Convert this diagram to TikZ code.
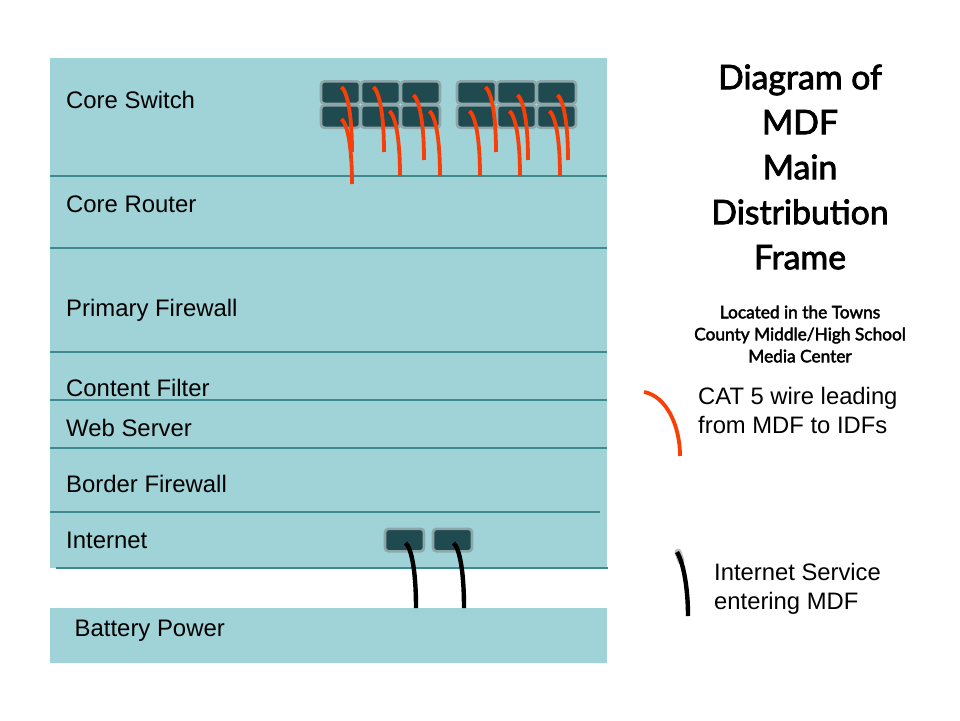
\documentclass[tikz,border=0pt]{standalone}
\usepackage{fontspec}
\setmainfont{Liberation Sans}
\newfontfamily\titlefont[FakeBold=2.4]{Lato}
\definecolor{bandfill}{HTML}{A0D3D7}
\definecolor{ruleteal}{HTML}{3F8A8E}
\definecolor{portdark}{HTML}{1F4A50}
\definecolor{portedge}{HTML}{8CA6AA}
\definecolor{cablered}{HTML}{F83F08}
\tikzset{
  band/.style={fill=bandfill,draw=none},
  rackrule/.style={draw=ruleteal,line width=1.4pt},
  portbox/.style={fill=portdark,draw=portedge,line width=2.6pt,rounded corners=3.5pt,minimum width=39pt,minimum height=22.5pt,inner sep=0pt,anchor=north west},
  racklabel/.style={anchor=base west,inner sep=0pt,font=\fontsize{23.9}{24}\selectfont,text=black},
  legendlabel/.style={anchor=base west,inner sep=0pt,align=left,font=\fontsize{23.8}{29}\selectfont,text=black},
  titletext/.style={anchor=center,inner sep=0pt,align=center,font=\titlefont\fontsize{33.8}{45}\selectfont},
  subtitletext/.style={anchor=center,inner sep=0pt,align=center,font=\titlefont\fontsize{17.3}{22}\selectfont},
  redcable/.style={draw=cablered,line width=3.8pt,line cap=butt},
  blackcable/.style={draw=black,line width=4.4pt,line cap=butt},
  cablehalo/.style={draw=black!25,line width=7pt,line cap=round}
}
\newcommand{\rackwire}[3]{\draw[#1,shift={(#2,#3)}] (0,0) .. controls (6,5) and (10.5,28) .. (10.5,65);}
\begin{document}
\begin{tikzpicture}[x=1pt,y=-1pt]
\useasboundingbox (0,0) rectangle (960,720);
\fill[white] (0,0) rectangle (960,720);
% rack
\node[band,minimum width=557pt,minimum height=510pt,inner sep=0pt,anchor=north west] (rack) at (50,58) {};
\node[band,minimum width=557pt,minimum height=55pt,inner sep=0pt,anchor=north west] (battery) at (50,608) {};
\draw[rackrule] (50,176) -- (607,176);
\draw[rackrule] (50,248) -- (607,248);
\draw[rackrule] (50,352) -- (607,352);
\draw[rackrule] (50,400) -- (607,400);
\draw[rackrule] (50,448) -- (607,448);
\draw[rackrule] (50,512) -- (600,512);
\draw[rackrule] (56,568) -- (608,568);
% labels
\node[racklabel] (l1) at (66,108) {Core Switch};
\node[racklabel] (l2) at (66,212) {Core Router};
\node[racklabel] (l3) at (66,316) {Primary Firewall};
\node[racklabel] (l4) at (66,396) {Content Filter};
\node[racklabel] (l5) at (66,436) {Web Server};
\node[racklabel] (l6) at (66,492) {Border Firewall};
\node[racklabel] (l7) at (66,548) {Internet};
\node[racklabel] (l8) at (74.5,636) {Battery Power};
% ports
\node[portbox] (a1) at (319.7,80) {};
\node[portbox] (a2) at (359.7,80) {};
\node[portbox] (a3) at (399.7,80) {};
\node[portbox] (a4) at (319.7,104) {};
\node[portbox] (a5) at (359.7,104) {};
\node[portbox] (a6) at (399.7,104) {};
\node[portbox] (b1) at (455.7,80) {};
\node[portbox] (b2) at (495.7,80) {};
\node[portbox] (b3) at (535.7,80) {};
\node[portbox] (b4) at (455.7,104) {};
\node[portbox] (b5) at (495.7,104) {};
\node[portbox] (b6) at (535.7,104) {};
\node[portbox] (c1) at (383.7,527.5) {};
\node[portbox] (c2) at (431.7,527.5) {};
% red cables
\rackwire{redcable}{341.5}{87}
\rackwire{redcable}{341.5}{119}
\rackwire{redcable}{373.5}{87}
\rackwire{redcable}{389.5}{111}
\rackwire{redcable}{413.5}{95}
\rackwire{redcable}{429.5}{111}
\rackwire{redcable}{469.5}{111}
\rackwire{redcable}{485.5}{87}
\rackwire{redcable}{509.5}{111}
\rackwire{redcable}{517.5}{95}
\rackwire{redcable}{549.5}{111}
\rackwire{redcable}{557.5}{95}
% black cables
\rackwire{blackcable}{405.5}{543}
\rackwire{blackcable}{453.5}{543}
% title
\node[titletext] (title) at (800,167) {Diagram of\\MDF\\Main\\Distribution\\Frame};
\node[subtitletext] (sub) at (800,334) {Located in the Towns\\County Middle/High School\\Media Center};
% legend
\draw[redcable] (644,392) .. controls (666,396) and (680,425) .. (680,456);
\node[legendlabel] (leg1) at (698,433) {CAT 5 wire leading\\from MDF to IDFs};
\draw[cablehalo] (678,552) -- (681,561);
\draw[blackcable] (677,552) .. controls (684,564) and (688,590) .. (688,616);
\node[legendlabel] (leg2) at (714,609) {Internet Service\\entering MDF};
\end{tikzpicture}
\end{document}
